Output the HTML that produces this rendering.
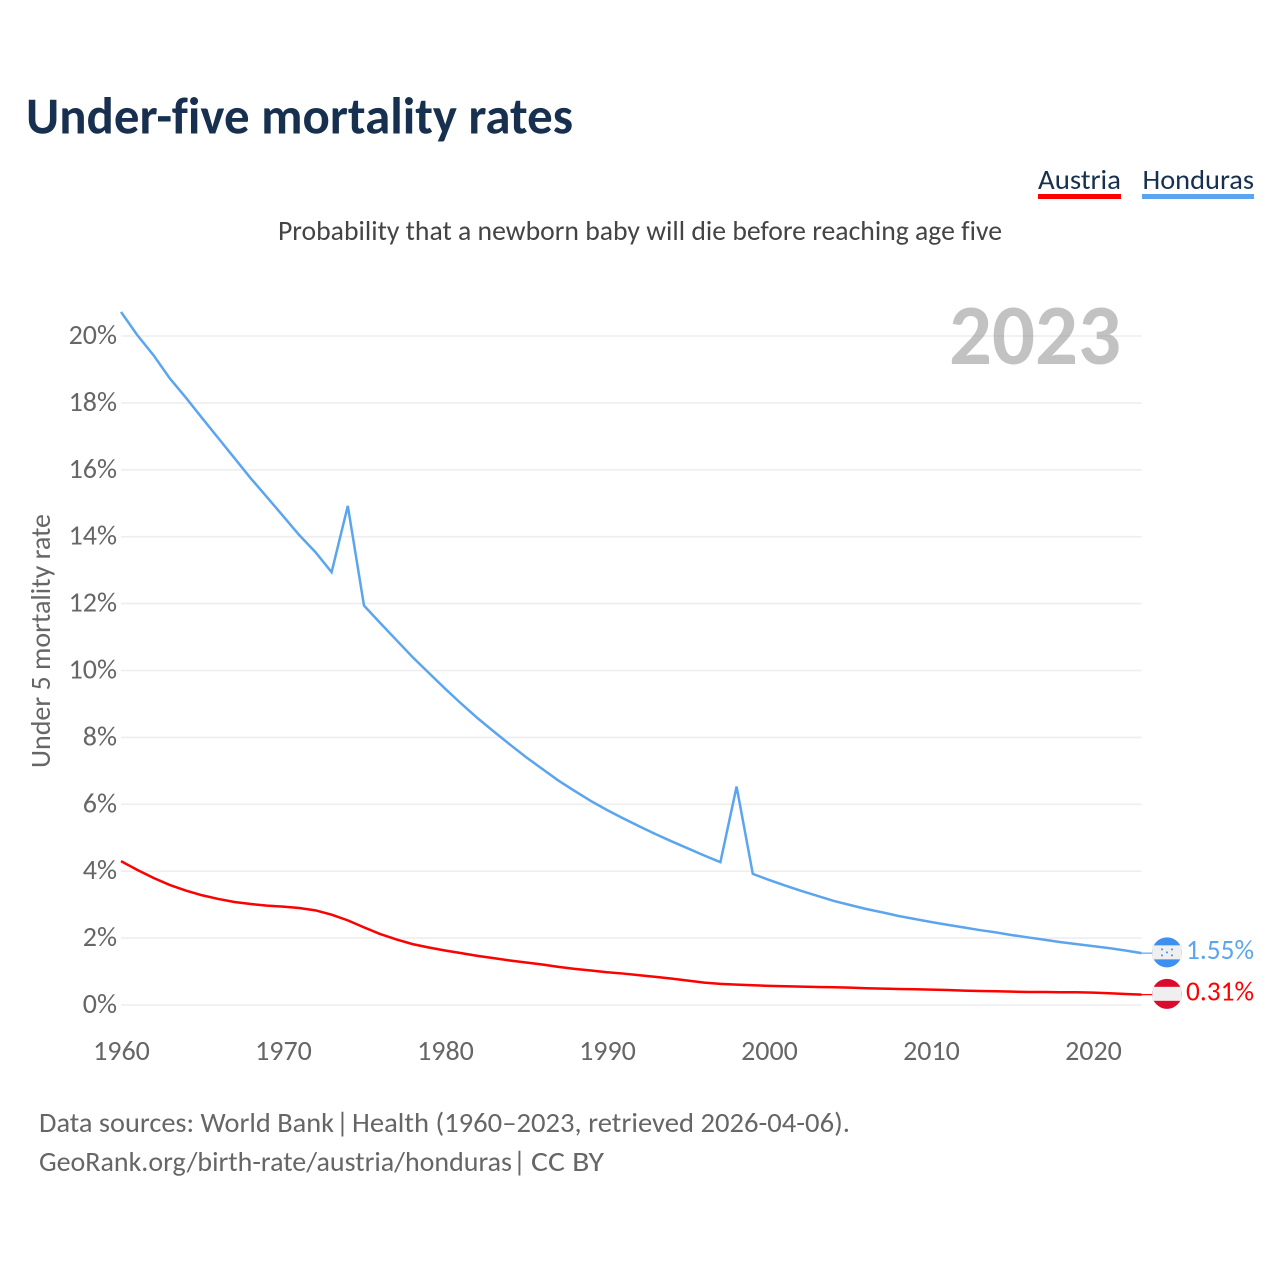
<!DOCTYPE html>
<html lang="en">
<head>
<meta charset="utf-8">
<title>Under-five mortality rates</title>
<style>
html,body{margin:0;padding:0;background:#fff;}
svg{display:block;font-family:"Carlito","Lato","Liberation Sans",sans-serif;font-variant-ligatures:none;}
</style>
</head>
<body>
<svg id="chart" xmlns="http://www.w3.org/2000/svg" width="1280" height="1280" viewBox="0 0 1280 1280">
  <rect x="0" y="0" width="1280" height="1280" fill="#ffffff"/>
  <text x="26" y="133.5" font-size="52" font-weight="700" fill="#17304f" textLength="547" lengthAdjust="spacingAndGlyphs">Under-five mortality rates</text>
  <g>
    <g>
      <text x="1038" y="189" font-size="28" fill="#17304f" textLength="83" lengthAdjust="spacingAndGlyphs">Austria</text>
      <rect x="1038" y="194" width="83" height="5" fill="#ff0000"/>
    </g>
    <g>
      <text x="1142.5" y="189" font-size="28" fill="#17304f" textLength="111.5" lengthAdjust="spacingAndGlyphs">Honduras</text>
      <rect x="1142" y="194" width="112" height="5" fill="#5ba5ee"/>
    </g>
  </g>
  <text x="278" y="240" font-size="28" fill="#444444" textLength="724" lengthAdjust="spacingAndGlyphs">Probability that a newborn baby will die before reaching age five</text>
  <g id="grid"></g>
  <text x="949" y="364" font-size="86" font-weight="700" fill="#999999" fill-opacity="0.6" textLength="172" lengthAdjust="spacingAndGlyphs">2023</text>
  <g id="yticks"></g>
  <g id="xticks"></g>
  <text transform="translate(50 768) rotate(-90)" x="0" y="0" font-size="28" fill="#666666" textLength="254" lengthAdjust="spacingAndGlyphs">Under 5 mortality rate</text>
  <g id="series"></g>
  <g id="endmarks"></g>
  <g font-size="28" fill="#666666">
    <text x="39" y="1132" textLength="295" lengthAdjust="spacingAndGlyphs">Data sources: World Bank</text>
    <text x="336" y="1132">|</text>
    <text x="352" y="1132" textLength="498" lengthAdjust="spacingAndGlyphs">Health (1960–2023, retrieved 2026-04-06).</text>
  </g>
  <g font-size="28" fill="#666666">
    <text x="39" y="1171" textLength="473" lengthAdjust="spacingAndGlyphs">GeoRank.org/birth-rate/austria/honduras</text>
    <text x="513" y="1171">|</text>
    <text x="531" y="1171" textLength="73" lengthAdjust="spacingAndGlyphs">CC BY</text>
  </g>
</svg>
<script>
const years = [1960,1961,1962,1963,1964,1965,1966,1967,1968,1969,1970,1971,1972,1973,1974,1975,1976,1977,1978,1979,1980,1981,1982,1983,1984,1985,1986,1987,1988,1989,1990,1991,1992,1993,1994,1995,1996,1997,1998,1999,2000,2001,2002,2003,2004,2005,2006,2007,2008,2009,2010,2011,2012,2013,2014,2015,2016,2017,2018,2019,2020,2021,2022,2023];
const hondurasValues = [20.72,20.03,19.43,18.74,18.16,17.55,16.95,16.35,15.75,15.19,14.62,14.05,13.54,12.94,14.92,11.94,11.42,10.91,10.40,9.93,9.46,9.01,8.58,8.18,7.79,7.41,7.06,6.71,6.40,6.10,5.83,5.58,5.34,5.11,4.89,4.68,4.47,4.27,6.53,3.92,3.74,3.57,3.41,3.26,3.11,2.99,2.87,2.77,2.66,2.57,2.48,2.40,2.32,2.24,2.17,2.09,2.02,1.95,1.88,1.82,1.76,1.70,1.63,1.55];
const austriaValues = [4.30,4.04,3.80,3.59,3.42,3.28,3.17,3.08,3.02,2.97,2.94,2.90,2.83,2.70,2.53,2.32,2.12,1.96,1.82,1.72,1.63,1.55,1.47,1.40,1.33,1.27,1.21,1.14,1.08,1.03,0.98,0.94,0.89,0.84,0.79,0.73,0.67,0.63,0.61,0.59,0.57,0.56,0.55,0.54,0.53,0.52,0.50,0.49,0.48,0.47,0.46,0.45,0.43,0.42,0.41,0.40,0.39,0.39,0.38,0.38,0.37,0.35,0.33,0.31];
const yTickValues = [0,2,4,6,8,10,12,14,16,18,20];
const xTickValues = [1960,1970,1980,1990,2000,2010,2020];

const NS = 'http://www.w3.org/2000/svg';
function xScale(year){ return 121 + (year - 1960) * 16.2; }
function yScale(value){ return 1005 - value * 33.45; }
function make(tag, attrs, parent){
  const el = document.createElementNS(NS, tag);
  for (const k in attrs) el.setAttribute(k, attrs[k]);
  parent.appendChild(el);
  return el;
}
const gridG = document.getElementById('grid');
const yG = document.getElementById('yticks');
const xG = document.getElementById('xticks');
const seriesG = document.getElementById('series');
const endG = document.getElementById('endmarks');
const xEnd = xScale(years[years.length - 1]);

yTickValues.forEach(function(v){
  const line = make('line', {x1:121, x2:xEnd, y1:yScale(v), y2:yScale(v), stroke:'#eeeeee', 'stroke-width':1.6}, gridG);
  
  
  const t = make('text', {x:117, y:yScale(v) + 8, 'text-anchor':'end', 'font-size':28, fill:'#666666'}, yG);
  
  
  t.textContent = v + '%';
});
xTickValues.forEach(function(v){
  const t = make('text', {x:xScale(v) + 0.5, y:1060, 'text-anchor':'middle', 'font-size':28, fill:'#666666'}, xG);
  
  
  t.textContent = String(v);
});
function linePath(values){
  return values.map(function(v, i){
    return (i ? 'L' : 'M') + xScale(years[i]).toFixed(2) + ' ' + yScale(v).toFixed(2);
  }).join(' ');
}
const austriaLine = make('path', {d:linePath(austriaValues), fill:'none', stroke:'#ff0000', 'stroke-width':2.5, 'stroke-linejoin':'miter'}, seriesG);


const hondurasLine = make('path', {d:linePath(hondurasValues), fill:'none', stroke:'#5ba5ee', 'stroke-width':2.5, 'stroke-linejoin':'miter'}, seriesG);



function endMark(values, color, top, band, isHonduras){
  const last = values[values.length - 1];
  const y = yScale(last);
  const cy = y - 0.8;
  const g = make('g', {}, endG);
  
  
  const conn = make('line', {x1:xEnd, x2:1154, y1:y, y2:y, stroke:color, 'stroke-width':1.2}, g);
  
  
  const disc = make('circle', {cx:1167, cy:cy, r:15, fill:top}, g);
  
  
  const stripe = make('rect', {x:1152.2, y:cy - 7, width:29.6, height:14, fill:band}, g);
  
  
  if (isHonduras) {
    [[-5,-3],[5,-3],[0,0],[-5,3],[5,3]].forEach(function(p){
      const s = make('circle', {cx:1167 + p[0], cy:cy + p[1], r:1, fill:top}, g);
      
      
    });
  }
  const label = make('text', {x:1254, y:cy + 6.5, 'text-anchor':'end', 'font-size':28, fill:color, textLength:68, lengthAdjust:'spacingAndGlyphs'}, g);
  
  
  label.textContent = last.toFixed(2) + '%';
}
endMark(hondurasValues, '#5ba5ee', '#3d8ff0', '#efefef', true);
endMark(austriaValues, '#ff0000', '#dc0a2d', '#efefef', false);
</script>
</body>
</html>
